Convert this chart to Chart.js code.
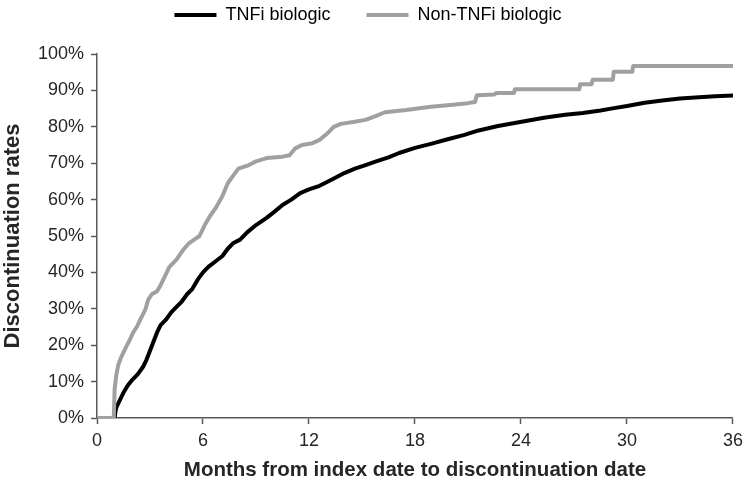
<!DOCTYPE html>
<html>
<head>
<meta charset="utf-8">
<script src="https://cdn.jsdelivr.net/npm/chart.js@4.4.1/dist/chart.umd.min.js"></script>
<style>
html,body{margin:0;padding:0;background:#fff;}
canvas{display:block;}
</style>
</head>
<body>
<canvas id="c" width="749" height="485"></canvas>
<script>
// Series names
const seriesNames = ["TNFi biologic", "Non-TNFi biologic"];
// X tick labels (months) and Y tick labels (%)
const xTicks = [0, 6, 12, 18, 24, 30, 36];
const yTicks = [0, 10, 20, 30, 40, 50, 60, 70, 80, 90, 100];
const xTitle = "Months from index date to discontinuation date";
const yTitle = "Discontinuation rates";

// TNFi biologic: months / discontinuation %
const tnfiMonths = [0,1.0,1.05,1.1,1.3,1.5,1.75,2.0,2.3,2.6,2.8,3.0,3.2,3.4,3.6,3.9,4.2,4.5,4.8,5.1,5.4,5.7,6.0,6.3,6.7,7.1,7.4,7.7,8.1,8.5,9.0,9.6,10.0,10.5,11.0,11.5,12.0,12.6,13.3,14.0,14.6,15.2,15.8,16.5,17.1,18.0,18.9,19.8,20.8,21.6,22.7,23.8,25.3,26.5,27.5,28.5,29.1,30.0,31.0,32.0,33.0,34.3,35.0,36.0];
const tnfiRates  = [0,0,2,3,5,7,9,10.5,12,14,16,18.5,21,23.5,25.5,27,29,30.5,32,34,35.5,38,40,41.5,43,44.5,46.5,48,49,51,53,55,56.5,58.5,60,61.8,62.8,63.8,65.5,67.3,68.5,69.5,70.5,71.6,72.8,74.2,75.3,76.5,77.8,79,80.2,81.2,82.5,83.3,83.8,84.5,85,85.7,86.6,87.2,87.8,88.2,88.4,88.6];

// Non-TNFi biologic: months / discontinuation % (late steps given as paired points)
const nonMonths = [0,0.95,1.0,1.1,1.2,1.35,1.5,1.7,1.86,2.05,2.25,2.45,2.6,2.75,2.9,3.1,3.4,3.6,3.8,4.1,4.5,4.85,5.2,5.5,5.8,6.1,6.4,6.76,7.1,7.4,7.7,8.0,8.3,8.6,9.0,9.6,10.5,10.9,11.2,11.6,12.2,12.6,13.0,13.4,13.8,14.5,15.2,15.8,16.3,17.5,18.9,20.0,21.0,21.4,21.5,22.5,22.6,23.6,23.65,27.3,27.35,28.0,28.05,29.2,29.25,30.3,30.35,36.0];
const nonRates  = [0,0,8,12,14.5,16.5,18,20,21.5,23.5,25,27,28.5,30,32.5,34,34.8,36.5,38.5,41.5,43.5,46,48,49,50,53,55.5,58,61,64.5,66.5,68.5,69,69.5,70.5,71.4,71.8,72.2,74,75,75.5,76.4,78,80,80.8,81.3,81.9,83,84,84.6,85.5,86,86.5,86.8,88.7,88.9,89.3,89.3,90.3,90.3,91.7,91.7,92.9,92.9,95.1,95.1,96.7,96.7];

const toPts = (xs, ys) => xs.map((x, i) => ({x: x, y: ys[i]}));

const legendFix = {
  id: 'legendFix',
  afterInit(chart) {
    const lg = chart.legend;
    if (!lg) return;
    const orig = lg.fit.bind(lg);
    lg.fit = function () { orig(); this.height = 54; };
  }
};

const FONT = "'Liberation Sans', Arial, sans-serif";

new Chart(document.getElementById('c'), {
  type: 'line',
  data: {
    datasets: [
      {
        label: seriesNames[0],
        data: toPts(tnfiMonths, tnfiRates),
        borderColor: '#000000',
        backgroundColor: '#000000',
        borderWidth: 4,
        tension: 0,
        borderJoinStyle: 'round',
        pointRadius: 0,
        fill: false,
        order: 1
      },
      {
        label: seriesNames[1],
        data: toPts(nonMonths, nonRates),
        borderColor: '#a0a0a0',
        backgroundColor: '#a0a0a0',
        borderWidth: 4,
        tension: 0,
        borderJoinStyle: 'round',
        pointRadius: 0,
        fill: false,
        order: 0
      }
    ]
  },
  plugins: [legendFix],
  options: {
    responsive: false,
    animation: false,
    layout: {padding: {left: 0, right: 13, top: 0, bottom: 0}},
    plugins: {
      tooltip: {enabled: false},
      legend: {
        display: true,
        position: 'top',
        labels: {
          boxWidth: 42,
          boxHeight: 4,
          padding: 6,
          color: '#262626',
          font: {family: FONT, size: 18},
          generateLabels(chart) {
            return chart.data.datasets.map((ds, i) => ({
              text: ds.label + (i === 0 ? '      ' : ''),
              fillStyle: ds.borderColor,
              strokeStyle: ds.borderColor,
              lineWidth: 0,
              hidden: false,
              datasetIndex: i
            }));
          }
        }
      }
    },
    scales: {
      x: {
        type: 'linear',
        min: 0,
        max: 36,
        afterBuildTicks(scale) { scale.ticks = xTicks.map(v => ({value: v})); },
        afterFit(scale) { scale.height = 67; },
        ticks: {
          color: '#262626',
          font: {family: FONT, size: 18},
          padding: 6,
          maxRotation: 0,
          autoSkip: false
        },
        grid: {display: true, drawOnChartArea: false, drawTicks: true, tickLength: 6, tickColor: '#595959', tickWidth: 1.5},
        border: {display: true, color: '#595959', width: 1.5},
        title: {display: true, text: xTitle, color: '#262626', font: {family: FONT, size: 20.5, weight: 'bold'}, padding: {top: 2, bottom: 2}}
      },
      y: {
        type: 'linear',
        min: 0,
        max: 100,
        afterBuildTicks(scale) { scale.ticks = yTicks.map(v => ({value: v})); },
        afterFit(scale) { scale.width = 97; },
        ticks: {
          color: '#262626',
          font: {family: FONT, size: 18},
          padding: 7,
          autoSkip: false,
          callback: v => v + '%'
        },
        grid: {display: true, drawOnChartArea: false, drawTicks: true, tickLength: 6, tickColor: '#595959', tickWidth: 1.5},
        border: {display: true, color: '#595959', width: 1.5},
        title: {display: true, text: yTitle, color: '#262626', font: {family: FONT, size: 22, weight: 'bold'}, padding: {top: 0, bottom: 4}}
      }
    }
  }
});
</script>
</body>
</html>
